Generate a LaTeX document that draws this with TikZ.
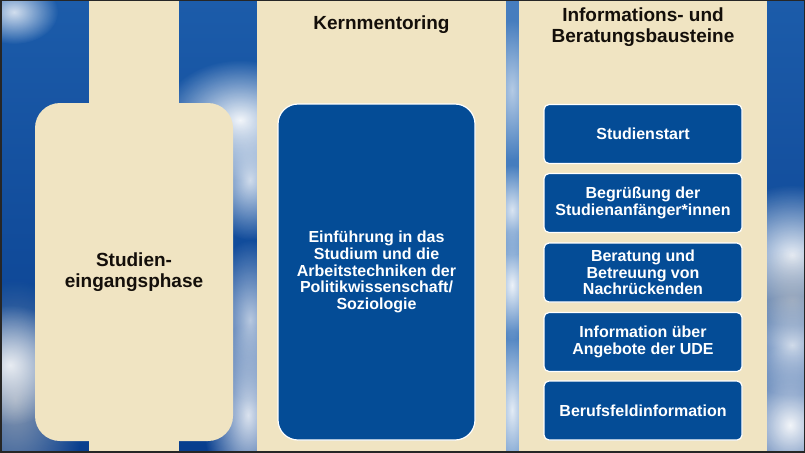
\documentclass[tikz,border=0pt]{standalone}
\usepackage{fontspec}
\setmainfont{Liberation Sans}
\usetikzlibrary{fadings}
\definecolor{beige}{RGB}{240,228,194}
\definecolor{boxblue}{RGB}{4,76,150}
\definecolor{skydark}{RGB}{8,62,142}
\definecolor{skymid}{RGB}{28,92,170}
\definecolor{skylight}{RGB}{70,125,190}
\definecolor{titleink}{RGB}{20,15,10}
\tikzfading[name=fuzzy, inner color=transparent!0, outer color=transparent!100]
\tikzset{
  col/.style={fill=beige, draw=none, inner sep=0pt},
  titletext/.style={font=\bfseries\fontsize{19}{21.5}\selectfont, text=titleink, align=center},
  bluebox/.style={fill=boxblue, draw=white, line width=1.2pt, inner sep=0pt,
    text=white, align=center, font=\bfseries\fontsize{16}{16.6}\selectfont},
  smallbox/.style={bluebox, rounded corners=5pt, minimum width=198pt, minimum height=59pt},
  cloud/.style={fill=white, path fading=fuzzy},
  greycloud/.style={fill=gray!50!white, path fading=fuzzy}
}
\begin{document}
\begin{tikzpicture}[x=1pt,y=-1pt]
\useasboundingbox (0,0) rectangle (805,452);
\clip (0,0) rectangle (805,452);
% sky
\shade[top color=skymid, bottom color=skydark] (0,0) rectangle (805,452);
\fill[skylight] (500,0) rectangle (525,452);
% clouds (fading covers about half the radius)
\fill[cloud, fill opacity=0.8] (14,12) ellipse [x radius=44, y radius=32];
\fill[cloud, fill opacity=0.95] (240,120) ellipse [x radius=80, y radius=60];
\fill[cloud, fill opacity=0.8] (250,180) ellipse [x radius=45, y radius=60];
\fill[cloud, fill opacity=0.7] (250,320) ellipse [x radius=40, y radius=80];
\fill[cloud, fill opacity=0.85] (248,415) ellipse [x radius=45, y radius=90];
\fill[greycloud, fill opacity=0.7] (15,400) ellipse [x radius=70, y radius=120];
\fill[cloud, fill opacity=0.85] (10,365) ellipse [x radius=60, y radius=60];
\fill[cloud, fill opacity=0.9] (792,255) ellipse [x radius=80, y radius=70];
\fill[greycloud, fill opacity=0.6] (792,300) ellipse [x radius=60, y radius=50];
\fill[cloud, fill opacity=0.8] (792,345) ellipse [x radius=60, y radius=50];
\fill[cloud, fill opacity=0.95] (790,425) ellipse [x radius=70, y radius=80];
\fill[cloud, fill opacity=0.6] (512,90) ellipse [x radius=24, y radius=70];
\fill[cloud, fill opacity=0.8] (512,210) ellipse [x radius=24, y radius=45];
\fill[cloud, fill opacity=0.9] (512,285) ellipse [x radius=24, y radius=55];
\fill[cloud, fill opacity=0.85] (512,410) ellipse [x radius=24, y radius=80];
% columns
\node[col, minimum width=90pt, minimum height=460pt] (strip) at (134,226) {};
\node[col, rounded corners=25pt, minimum width=198pt, minimum height=338pt,
      titletext, font=\bfseries\fontsize{19}{20.5}\selectfont] (phase) at (134,272) {Studien-\\eingangsphase};
\node[col, minimum width=249pt, minimum height=460pt] (kerncol) at (381.5,226) {};
\node[col, minimum width=248pt, minimum height=460pt] (infocol) at (643,226) {};
% titles
\node[titletext] (kerntitle) at (381.5,25) {Kernmentoring};
\node[titletext] (infotitle) at (643,27) {Informations- und\\Beratungsbausteine};
% middle box
\node[bluebox, rounded corners=20pt, minimum width=197pt, minimum height=336pt] (einf) at (376.5,272)
  {Einführung in das\\Studium und die\\Arbeitstechniken der\\Politikwissenschaft/\\Soziologie};
% right boxes
\node[smallbox] (b1) at (643,134) {Studienstart};
\node[smallbox] (b2) at (643,203) {Begrüßung der\\Studienanfänger*innen};
\node[smallbox] (b3) at (643,272.5) {Beratung und\\Betreuung von\\Nachrückenden};
\node[smallbox] (b4) at (643,342) {Information über\\Angebote der UDE};
\node[smallbox] (b5) at (643,410.5) {Berufsfeldinformation};
% frame
\draw[line width=3pt, black!85] (0,0) rectangle (805,452);
\end{tikzpicture}
\end{document}
